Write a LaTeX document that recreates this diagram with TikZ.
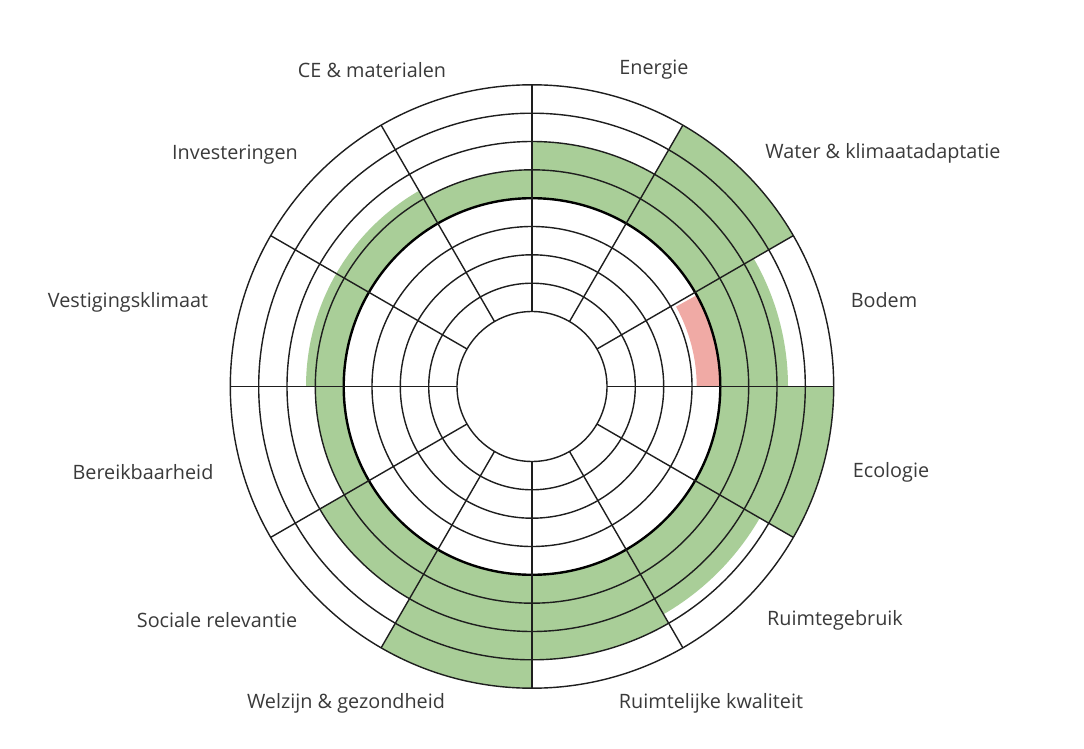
\documentclass[tikz,border=0pt]{standalone}
\usepackage{fontspec}
\setmainfont{Open Sans}
\definecolor{segGreen}{HTML}{A9CE98}
\definecolor{segRed}{HTML}{F0AAA5}
\definecolor{gridLine}{HTML}{1E1E1E}
\definecolor{labelText}{HTML}{3A3A3A}
\newcommand{\ringseg}[5]{%
  \fill[#1] (#2:#4) arc[start angle=#2,end angle=#3,radius=#4] -- (#3:#5) arc[start angle=#3,end angle=#2,radius=#5] -- cycle;}
\begin{document}
\begin{tikzpicture}[x=1pt,y=1pt,
  lbl/.style={font=\fontsize{19.8}{22}\selectfont,text=labelText,inner sep=0pt},
  gridln/.style={draw=gridLine,line width=1.4pt},
  thickln/.style={draw=black,line width=2.4pt}]
\useasboundingbox (0,0) rectangle (1084,748);
\fill[white] (0,0) rectangle (1084,748);
\begin{scope}[shift={(532,361.5)}]
  % green fills
  \ringseg{segGreen}{30}{60}{188.3}{301.7}
  \ringseg{segGreen}{60}{90}{188.3}{245}
  \ringseg{segGreen}{90}{120}{188.3}{216.7}
  \ringseg{segGreen}{120}{150}{188.3}{226}
  \ringseg{segGreen}{150}{180}{188.3}{226}
  \ringseg{segGreen}{180}{210}{188.3}{216.7}
  \ringseg{segGreen}{210}{240}{188.3}{245}
  \ringseg{segGreen}{240}{270}{188.3}{301.7}
  \ringseg{segGreen}{270}{300}{188.3}{273.3}
  \ringseg{segGreen}{300}{330}{188.3}{263}
  \ringseg{segGreen}{330}{360}{188.3}{301.7}
  \ringseg{segGreen}{0}{30}{188.3}{256}
  \ringseg{segRed}{0}{29}{164.7}{188.3}
  % circles
  \foreach \r in {75,103.3,131.7,160,216.7,245,273.3,301.7}
    \draw[gridln] (0,0) circle[radius=\r];
  \draw[thickln] (0,0) circle[radius=188.3];
  % dividers
  \foreach \a in {0,30,...,330}
    \draw[gridln] (\a:75) -- (\a:301.7);
\end{scope}
% labels
\node[lbl] (ce) at (372,678) {CE \& materialen};
\node[lbl] (energie) at (654,678) {Energie};
\node[lbl] (water) at (883,595) {Water \& klimaatadaptatie};
\node[lbl] (invest) at (235,593) {Investeringen};
\node[lbl] (vestiging) at (128,446) {Vestigingsklimaat};
\node[lbl] (bodem) at (884,448) {Bodem};
\node[lbl] (ecologie) at (891,276) {Ecologie};
\node[lbl] (bereik) at (143,276) {Bereikbaarheid};
\node[lbl] (ruimtegebruik) at (835,128) {Ruimtegebruik};
\node[lbl] (sociaal) at (217,128) {Sociale relevantie};
\node[lbl] (kwaliteit) at (711,45) {Ruimtelijke kwaliteit};
\node[lbl] (welzijn) at (346,45) {Welzijn \& gezondheid};
\end{tikzpicture}
\end{document}
